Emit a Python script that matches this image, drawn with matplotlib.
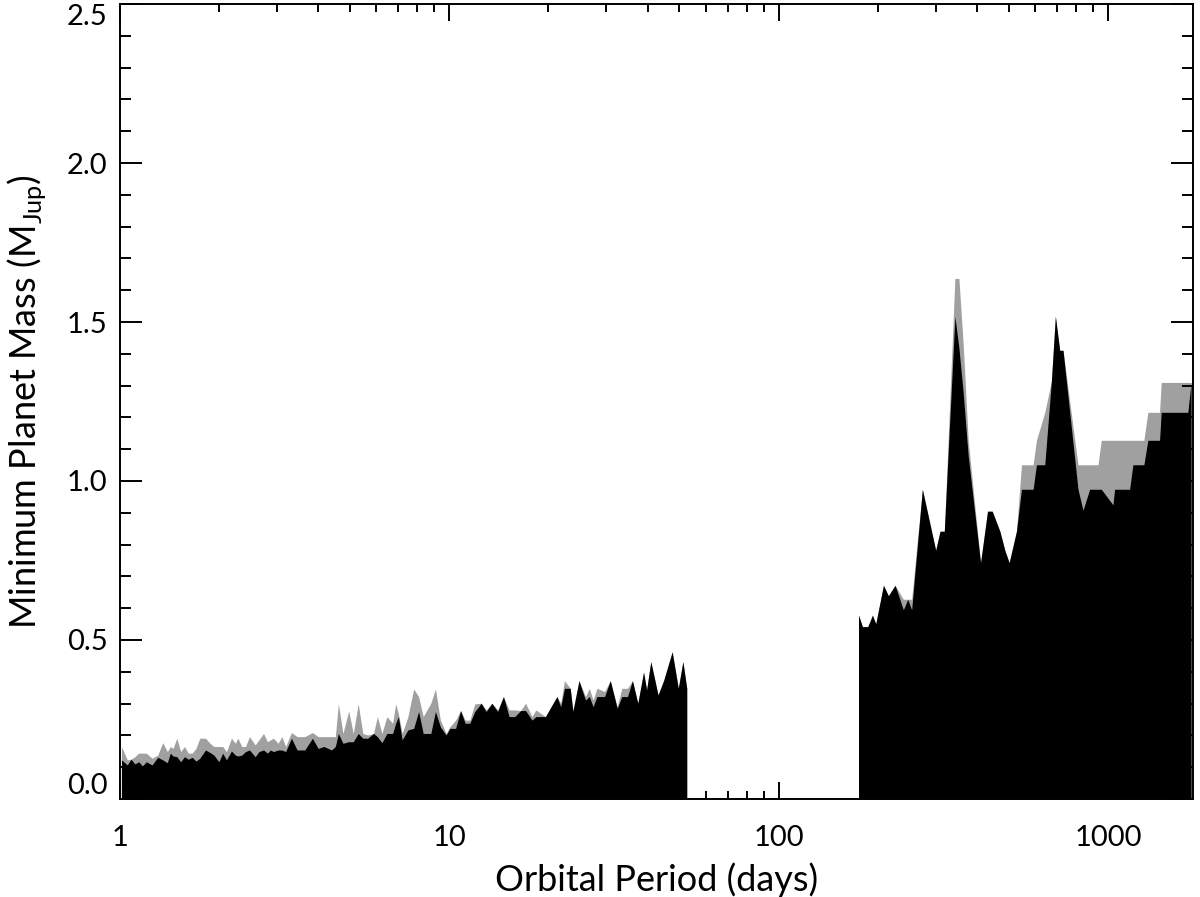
import matplotlib
matplotlib.use('Agg')
import matplotlib.pyplot as plt
import numpy as np
from matplotlib.ticker import LogLocator, FixedLocator, MultipleLocator, NullFormatter

# ---- data ----
# short-period segment (days, M_Jup)
period_short = [1.01, 1.052, 1.080, 1.110, 1.139, 1.170, 1.202, 1.251, 1.302, 1.348,
                1.392, 1.422, 1.449, 1.488, 1.528, 1.570, 1.612, 1.656, 1.701, 1.747,
                1.818, 1.877, 1.928, 1.996, 2.050, 2.105, 2.180, 2.239, 2.281, 2.343,
                2.406, 2.472, 2.573, 2.642, 2.729, 2.803, 2.863, 2.925, 3.020, 3.101,
                3.185, 3.315, 3.451, 3.640, 3.840, 3.997, 4.160, 4.388, 4.507, 4.604,
                4.754, 4.948, 5.109, 5.290, 5.462, 5.655, 5.886, 6.046, 6.242, 6.463,
                6.727, 6.873, 7.002, 7.192, 7.486, 7.793, 8.067, 8.331, 8.786, 9.074,
                9.393, 9.777, 10.04, 10.45, 10.82, 11.17, 11.54, 11.95, 12.50, 12.94,
                13.47, 14.02, 14.60, 15.19, 15.81, 16.46, 17.04, 17.83, 18.31, 19.58,
                21.22, 21.79, 22.37, 23.29, 23.73, 24.76, 25.91, 26.61, 27.33, 28.07,
                29.61, 30.82, 32.34, 33.39, 34.76, 35.98, 37.36, 38.89, 39.73, 40.91,
                43.04, 44.80, 47.51, 49.58, 51.20, 52.6]
mass_short_black = [0.123, 0.107, 0.125, 0.110, 0.117, 0.104, 0.117, 0.107, 0.131, 0.123,
                    0.114, 0.144, 0.135, 0.133, 0.117, 0.133, 0.125, 0.131, 0.119, 0.128,
                    0.154, 0.146, 0.138, 0.117, 0.144, 0.123, 0.151, 0.138, 0.135, 0.138,
                    0.149, 0.154, 0.133, 0.149, 0.154, 0.144, 0.154, 0.149, 0.154, 0.154,
                    0.149, 0.191, 0.154, 0.154, 0.191, 0.159, 0.165, 0.154, 0.165, 0.206,
                    0.175, 0.180, 0.180, 0.206, 0.191, 0.191, 0.206, 0.196, 0.177, 0.206,
                    0.206, 0.238, 0.259, 0.186, 0.217, 0.222, 0.275, 0.206, 0.206, 0.275,
                    0.227, 0.201, 0.222, 0.222, 0.278, 0.238, 0.238, 0.275, 0.301, 0.275,
                    0.301, 0.275, 0.322, 0.259, 0.259, 0.278, 0.278, 0.248, 0.259, 0.259,
                    0.322, 0.290, 0.348, 0.348, 0.275, 0.372, 0.311, 0.322, 0.290, 0.322,
                    0.322, 0.372, 0.285, 0.322, 0.322, 0.372, 0.301, 0.399, 0.343, 0.432,
                    0.327, 0.374, 0.463, 0.348, 0.432, 0.348]
mass_short_gray = [0.165, 0.123, 0.125, 0.133, 0.144, 0.144, 0.144, 0.128, 0.138, 0.177,
                   0.149, 0.165, 0.159, 0.191, 0.149, 0.165, 0.144, 0.144, 0.159, 0.191,
                   0.191, 0.175, 0.165, 0.165, 0.165, 0.149, 0.191, 0.175, 0.191, 0.165,
                   0.165, 0.196, 0.170, 0.186, 0.206, 0.180, 0.186, 0.191, 0.175, 0.196,
                   0.165, 0.209, 0.196, 0.196, 0.209, 0.196, 0.196, 0.196, 0.196, 0.299,
                   0.206, 0.277, 0.206, 0.299, 0.206, 0.201, 0.206, 0.259, 0.206, 0.259,
                   0.238, 0.299, 0.269, 0.206, 0.259, 0.346, 0.322, 0.259, 0.301, 0.346,
                   0.248, 0.206, 0.227, 0.248, 0.278, 0.248, 0.248, 0.299, 0.301, 0.280,
                   0.301, 0.280, 0.322, 0.280, 0.280, 0.278, 0.301, 0.259, 0.280, 0.259,
                   0.322, 0.301, 0.372, 0.348, 0.280, 0.372, 0.322, 0.348, 0.311, 0.348,
                   0.338, 0.372, 0.290, 0.348, 0.348, 0.372, 0.301, 0.399, 0.343, 0.432,
                   0.327, 0.374, 0.463, 0.348, 0.432, 0.348]

# long-period segment
period_long = [174.8, 179.7, 186.5, 192.7, 197.2, 208.1, 215.4, 225.7, 239.2, 246.6,
               253.5, 273.2, 299.9, 309.1, 318.5, 343.0, 352.7, 363.5, 376.4, 410.4,
               430.9, 445.2, 469.6, 486.3, 501.2, 527.5, 546.3, 592.6, 606.5, 642.9,
               673.5, 692.5, 713.7, 730.5, 811.1, 840.0, 879.8, 932.5, 954.5, 1035.6,
               1047.6, 1163.4, 1190.7, 1285.6, 1322.0, 1434.6, 1451.1, 1747.9, 1788.9]
mass_long_black = [0.578, 0.542, 0.542, 0.578, 0.551, 0.672, 0.639, 0.672, 0.595, 0.628,
                   0.595, 0.974, 0.782, 0.842, 0.842, 1.518, 1.419, 1.277, 1.079, 0.743,
                   0.905, 0.905, 0.842, 0.782, 0.743, 0.842, 0.974, 0.974, 1.051, 1.051,
                   1.315, 1.518, 1.411, 1.411, 0.974, 0.908, 0.974, 0.974, 0.974, 0.925,
                   0.974, 0.974, 1.051, 1.051, 1.128, 1.128, 1.216, 1.216, 1.310]
mass_long_gray = [0.578, 0.542, 0.542, 0.578, 0.551, 0.672, 0.639, 0.672, 0.628, 0.628,
                  0.628, 0.974, 0.782, 0.842, 0.842, 1.637, 1.637, 1.430, 1.128, 0.743,
                  0.905, 0.905, 0.842, 0.782, 0.743, 0.842, 1.051, 1.051, 1.128, 1.216,
                  1.315, 1.518, 1.411, 1.411, 1.051, 1.051, 1.051, 1.051, 1.128, 1.128,
                  1.128, 1.128, 1.128, 1.128, 1.216, 1.216, 1.310, 1.310, 1.310]

x_ticks = [1, 10, 100, 1000]
x_ticklabels = ['1', '10', '100', '1000']
y_ticks = [0.0, 0.5, 1.0, 1.5, 2.0, 2.5]

plt.rcParams['font.family'] = ['Lato', 'DejaVu Sans']
plt.rcParams['mathtext.fontset'] = 'custom'
plt.rcParams['mathtext.rm'] = 'Lato'

fig = plt.figure(figsize=(12, 8.97), dpi=100)
ax = fig.add_axes([0.1, 0.1093, 0.894, 0.8862])

gray = '#a0a0a0'
ax.fill_between(period_short, 0, mass_short_gray, color=gray, lw=0)
ax.fill_between(period_short, 0, mass_short_black, color='black', lw=0)
ax.fill_between(period_long, 0, mass_long_gray, color=gray, lw=0)
ax.fill_between(period_long, 0, mass_long_black, color='black', lw=0)

ax.set_xscale('log')
ax.set_xlim(1, 1810)
ax.set_ylim(0, 2.5)

ax.xaxis.set_major_locator(FixedLocator(x_ticks))
ax.set_xticklabels(x_ticklabels)
ax.xaxis.set_minor_locator(LogLocator(base=10, subs=np.arange(2, 10)))
ax.xaxis.set_minor_formatter(NullFormatter())
ax.set_yticks(y_ticks)
ax.set_yticklabels(['%.1f' % v for v in y_ticks])
ax.yaxis.set_minor_locator(MultipleLocator(0.1))

ax.tick_params(axis='both', which='both', direction='in', top=True, right=True,
               colors='black', width=1.4, labelsize=21)
ax.tick_params(axis='x', which='major', length=12, pad=19)
ax.tick_params(axis='x', which='minor', length=6)
ax.tick_params(axis='y', which='major', length=16, pad=9)
ax.tick_params(axis='y', which='minor', length=8)
for sp in ax.spines.values():
    sp.set_linewidth(1.4)

# keep end labels of the y axis inside the frame, as in the original
ylabels = ax.get_yticklabels()
ylabels[0].set_va('bottom')
ylabels[-1].set_va('top')

ax.set_xlabel('Orbital Period (days)', fontsize=26, labelpad=8)
ax.set_ylabel(r'Minimum Planet Mass (M$_{\mathrm{Jup}}$)', fontsize=26)
ax.yaxis.set_label_coords(-0.067, 0.5)

fig.savefig('out.png', dpi=100)
